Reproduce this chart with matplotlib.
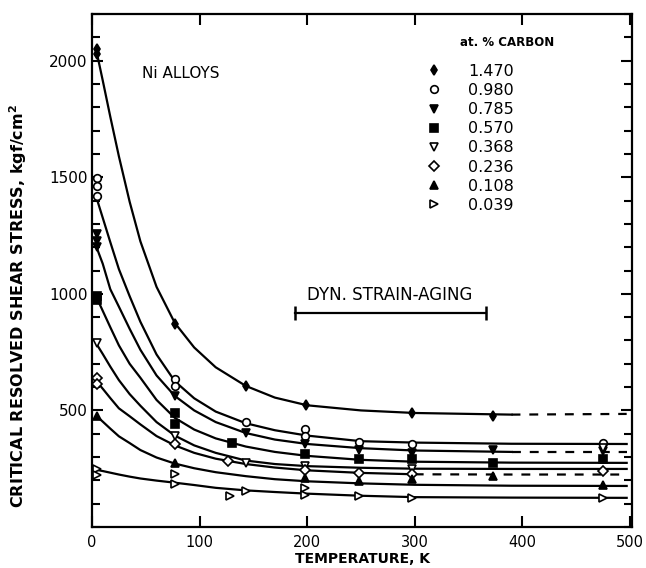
import matplotlib.pyplot as plt
from matplotlib.ticker import MultipleLocator

# at. % carbon for each Ni alloy series
carbon = ['1.470', '0.980', '0.785', '0.570', '0.368', '0.236', '0.108', '0.039']
markers = ['d', 'o', 'v', 's', 'v', 'D', '^', '>']
filled = [True, False, True, True, False, False, True, False]

# measured points (temperature K, stress kgf/cm2)
obs_temp = [
    [4.2, 4.2, 77, 143, 199, 297, 373],
    [4.2, 4.2, 4.2, 77, 77, 143, 198, 198, 248, 297, 475],
    [4.2, 4.2, 4.2, 77, 143, 198, 248, 297, 373, 475],
    [4.2, 4.2, 77, 77, 130, 198, 248, 297, 373, 475],
    [4.2, 77, 143, 198, 297, 475],
    [4.2, 4.2, 77, 126, 198, 248, 297, 475],
    [4.2, 77, 198, 248, 297, 373, 475],
    [4.2, 4.2, 77, 77, 128, 143, 198, 198, 248, 297, 475],
]
obs_stress = [
    [2050, 2030, 871, 605, 524, 488, 478],
    [1498, 1464, 1420, 635, 605, 450, 421, 392, 365, 358, 362],
    [1257, 1228, 1200, 562, 403, 356, 330, 318, 332, 325],
    [990, 972, 489, 442, 360, 313, 290, 292, 276, 290],
    [790, 390, 275, 262, 250, 340],
    [640, 614, 356, 283, 245, 230, 228, 240],
    [476, 275, 210, 197, 205, 219, 180],
    [250, 222, 227, 184, 133, 155, 167, 137, 133, 125, 125],
]

# hand-drawn fit curves
fit_temp = [4.2, 10, 17, 25, 35, 45, 60, 77, 95, 115, 143, 170, 200, 250, 300, 390, 497]
fit_stress = [
    [2040, 1915, 1760, 1590, 1395, 1225, 1030, 875, 770, 685, 605, 555, 522, 500, 489, 482, 485],
    [1412, 1326, 1222, 1106, 990, 880, 740, 625, 552, 495, 445, 415, 392, 368, 362, 357, 356],
    [1200, 1129, 1020, 945, 850, 760, 650, 562, 500, 450, 403, 375, 356, 338, 328, 322, 322],
    [985, 927, 857, 779, 700, 640, 545, 468, 418, 380, 345, 322, 305, 288, 280, 276, 275],
    [785, 742, 688, 630, 570, 520, 450, 392, 350, 318, 285, 270, 261, 254, 250, 249, 249],
    [625, 593, 553, 509, 475, 440, 390, 350, 318, 293, 270, 255, 243, 232, 226, 225, 225],
    [476, 452, 422, 389, 360, 330, 298, 272, 252, 235, 218, 205, 196, 187, 181, 177, 176],
    [245, 240, 233, 225, 216, 208, 199, 190, 180, 168, 157, 150, 143, 134, 128, 126, 125],
]
# temperature where the curve turns dashed (None = solid all the way)
dash_from = [390, None, 390, None, None, 300, None, None]

aging_range = [189, 366]
aging_level = 918

fig = plt.figure(figsize=(6.46, 5.68), dpi=100)
ax = fig.add_axes([0.1424, 0.0722, 0.836, 0.903])

for i, c in enumerate(carbon):
    ys = fit_stress[i]
    if dash_from[i] is None:
        ax.plot(fit_temp, ys, '-', color='k', lw=1.6, zorder=2)
    else:
        k = fit_temp.index(dash_from[i])
        ax.plot(fit_temp[:k + 1], ys[:k + 1], '-', color='k', lw=1.6, zorder=2)
        ax.plot(fit_temp[k:], ys[k:], '--', color='k', lw=1.6, dashes=(4, 4), zorder=2)
    ms = 5 if markers[i] in ('D', 'd') else 5.5
    ax.plot(obs_temp[i], obs_stress[i], linestyle='none', marker=markers[i], ms=ms,
            mfc='k' if filled[i] else 'white', mec='k', mew=1.2, zorder=3, label=c)

# dynamic strain-aging range
ax.plot(aging_range, [aging_level, aging_level], '-', color='k', lw=1.6,
        marker='|', ms=10, mew=1.8)
ax.text(0.551, 0.452, 'DYN. STRAIN-AGING', transform=ax.transAxes,
        ha='center', va='center', fontsize=12)
ax.text(0.093, 0.885, 'Ni ALLOYS', transform=ax.transAxes,
        ha='left', va='center', fontsize=11)

ax.text(0.769, 0.945, 'at. % CARBON', transform=ax.transAxes,
        ha='center', va='center', fontsize=8.5, fontweight='bold')
ax.legend(loc='upper left', bbox_to_anchor=(0.619, 0.903), frameon=False,
          fontsize=11.5, handlelength=1.0, handletextpad=1.6, labelspacing=0.26,
          borderpad=0, borderaxespad=0)

ax.set_xlim(0, 502)
ax.set_ylim(0, 2200)
ax.set_xticks([0, 100, 200, 300, 400, 500])
ax.set_yticks([500, 1000, 1500, 2000])
ax.yaxis.set_minor_locator(MultipleLocator(100))
ax.tick_params(which='both', direction='in', top=True, right=True, labelsize=11)
ax.tick_params(which='major', length=8, width=1.5)
ax.tick_params(which='minor', length=6, width=1.5)
ax.tick_params(axis='x', pad=6, labelsize=10.5)
ax.tick_params(axis='y', pad=3)
for s in ax.spines.values():
    s.set_linewidth(1.6)

ax.set_xlabel('TEMPERATURE, K', fontsize=10, fontweight='bold', labelpad=1)
ax.set_ylabel('CRITICAL RESOLVED SHEAR STRESS, kgf/cm$^\\mathbf{2}$', fontsize=11.5,
              fontweight='bold')
ax.yaxis.set_label_coords(-0.116, 0.43)

fig.savefig('out.png', dpi=100)
